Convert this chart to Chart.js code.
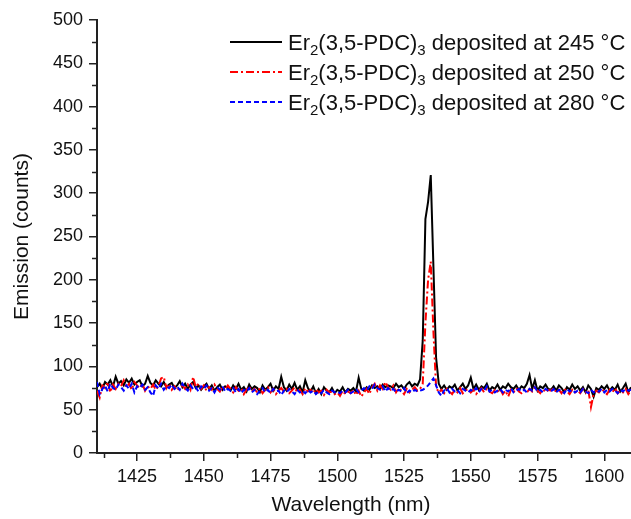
<!DOCTYPE html>
<html>
<head>
<meta charset="utf-8">
<script src="https://cdn.jsdelivr.net/npm/chart.js@4/dist/chart.umd.min.js"></script>
<style>
  html, body { margin:0; padding:0; background:#fff; overflow:hidden; }
  #wrap { position:relative; width:631px; height:519px; }
</style>
</head>
<body>
<div id="wrap"><canvas id="c" width="631" height="519"></canvas></div>
<script>
// wavelength grid, 1 nm steps
const wlStart = 1410
const wlEnd = 1610

// emission, 245 °C deposit
const em245 = [
  76, 80, 74, 82, 79, 84, 77, 88, 80, 83,
  78, 85, 81, 86, 79, 82, 84, 77, 80, 89,
  81, 78, 84, 80, 77, 82, 76, 79, 81, 75,
  78, 83, 76, 80, 74, 79, 82, 75, 78, 73,
  77, 80, 74, 78, 72, 76, 79, 73, 77, 75,
  72, 78, 74, 80, 73, 76, 71, 79, 74, 77,
  75, 70, 78, 73, 76, 80, 72, 77, 74, 88,
  76, 72, 79, 74, 81, 73, 77, 70, 84, 75,
  71, 77, 69, 74, 68, 76, 72, 70, 75, 69,
  73, 71, 76, 70, 74, 72, 75, 71, 87, 74,
  72, 76, 73, 78, 75, 77, 74, 79, 76, 78,
  77, 75, 80, 76, 78, 74, 79, 82, 77, 80,
  78, 85, 130, 270, 290, 321, 215, 110, 80, 74,
  78, 73, 77, 75, 79, 72, 76, 80, 74, 78,
  87, 74, 79, 73, 77, 75, 80, 72, 76, 74,
  79, 73, 77, 75, 80, 76, 74, 78, 73, 77,
  75, 80, 90, 74, 84, 72, 77, 75, 79, 74,
  73, 77, 72, 78, 75, 70, 76, 73, 79, 74,
  77, 72, 76, 70, 78, 74, 65, 75, 73, 77,
  74, 78, 72, 76, 73, 79, 71, 75, 80, 70,
  76
]

// emission, 250 °C deposit
const em250 = [
  72, 64, 78, 75, 82, 70, 79, 74, 80, 77,
  84, 76, 80, 73, 82, 78, 75, 80, 72, 77,
  74, 79, 73, 77, 86, 88, 75, 80, 73, 77,
  72, 76, 78, 74, 79, 73, 88, 76, 80, 74,
  78, 72, 76, 73, 79, 74, 71, 77, 73, 78,
  74, 70, 76, 72, 75, 68, 73, 77, 71, 74,
  70, 75, 69, 73, 76, 70, 74, 68, 72, 75,
  71, 74, 69, 72, 76, 70, 73, 68, 75, 71,
  73, 69, 74, 70, 72, 67, 73, 70, 71, 68,
  70, 66, 72, 68, 71, 69, 73, 67, 72, 65,
  70, 74, 68, 76, 80, 72, 78, 74, 82, 76,
  73, 78, 70, 75, 72, 68, 74, 70, 73, 76,
  72, 74, 80, 150, 200, 221, 140, 76, 70, 73,
  69, 74, 71, 68, 73, 70, 75, 69, 72, 74,
  70, 73, 68, 72, 75, 70, 74, 71, 69, 73,
  71, 74, 68, 72, 65, 73, 70, 75, 71, 69,
  73, 70, 74, 71, 76, 72, 69, 74, 70, 73,
  72, 75, 70, 73, 69, 74, 71, 68, 73, 70,
  72, 69, 74, 70, 73, 53, 68, 72, 70, 74,
  71, 68, 73, 70, 75, 69, 72, 70, 74, 68,
  72
]

// emission, 280 °C deposit
const em280 = [
  82, 68, 74, 78, 71, 80, 75, 73, 79, 76,
  72, 78, 74, 80, 70, 77, 75, 79, 73, 76,
  70, 66, 78, 74, 80, 73, 77, 75, 79, 74,
  77, 73, 80, 75, 72, 78, 74, 76, 71, 77,
  74, 78, 72, 75, 70, 76, 73, 77, 71, 74,
  72, 75, 70, 74, 69, 73, 71, 75, 70, 73,
  68, 72, 75, 70, 73, 69, 74, 71, 72, 67,
  72, 70, 74, 71, 68, 73, 70, 72, 69, 73,
  70, 72, 68, 71, 69, 73, 70, 68, 72, 70,
  71, 69, 72, 70, 73, 69, 71, 74, 70, 72,
  75, 72, 77, 74, 79, 75, 73, 77, 71, 75,
  72, 74, 70, 73, 71, 75, 69, 72, 70, 73,
  71, 72, 73, 75, 78, 82, 86, 78, 70, 66,
  72, 75, 70, 74, 71, 73, 69, 74, 72, 70,
  73, 71, 75, 70, 74, 72, 77, 71, 73, 70,
  72, 74, 70, 73, 71, 75, 70, 72, 74, 71,
  73, 70, 74, 72, 76, 71, 73, 70, 74, 72,
  71, 74, 70, 73, 72, 69, 74, 71, 73, 70,
  72, 70, 74, 71, 69, 73, 70, 72, 71, 74,
  70, 73, 71, 74, 72, 69, 73, 71, 74, 72,
  73
]

// legend names, "_x" = subscript
const seriesNames = [
  'Er_2(3,5-PDC)_3 deposited at 245 °C',
  'Er_2(3,5-PDC)_3 deposited at 250 °C',
  'Er_2(3,5-PDC)_3 deposited at 280 °C'
]

const xTicks = [1425, 1450, 1475, 1500, 1525, 1550, 1575, 1600]
const xMinor = [1412.5, 1437.5, 1462.5, 1487.5, 1512.5, 1537.5, 1562.5, 1587.5]
const yTicks = [0, 50, 100, 150, 200, 250, 300, 350, 400, 450, 500]
const yMinor = [25, 75, 125, 175, 225, 275, 325, 375, 425, 475]

const FONT = '"Liberation Sans", Arial, sans-serif'
const AXIS = '#222'

const pts = arr => arr.map((v, i) => ({ x: wlStart + i, y: v }))

const minorTicks = {
  id: 'minorTicks',
  afterDraw(chart) {
    const c = chart.ctx, x = chart.scales.x, y = chart.scales.y, a = chart.chartArea
    c.save()
    c.strokeStyle = AXIS
    c.lineWidth = 1.5
    c.beginPath()
    xMinor.forEach(v => {
      const p = Math.round(x.getPixelForValue(v)) + 0.5
      c.moveTo(p, a.bottom); c.lineTo(p, a.bottom + 5)
    })
    yMinor.forEach(v => {
      const p = Math.round(y.getPixelForValue(v)) + 0.5
      c.moveTo(a.left, p); c.lineTo(a.left - 5, p)
    })
    c.stroke()

    // axis titles
    c.fillStyle = '#111'
    c.font = '21px ' + FONT
    c.textAlign = 'center'
    c.textBaseline = 'middle'
    c.fillText('Wavelength (nm)', 351, 505)
    c.translate(22, (a.top + a.bottom) / 2)
    c.rotate(-Math.PI / 2)
    c.fillText('Emission (counts)', 0, 0)
    c.restore()
  }
}

// legend with real subscripts
const subLegend = {
  id: 'subLegend',
  afterDraw(chart) {
    const c = chart.ctx
    c.save()
    chart.data.datasets.forEach((ds, i) => {
      const yy = 42 + i * 30
      c.strokeStyle = ds.borderColor
      c.lineWidth = 2
      c.setLineDash(ds.borderDash || [])
      c.beginPath(); c.moveTo(230, yy); c.lineTo(282, yy); c.stroke()
      c.setLineDash([])
      let xx = 288
      c.fillStyle = '#111'
      c.textBaseline = 'alphabetic'
      seriesNames[i].split(/(_\d)/).forEach(part => {
        if (!part) return
        if (part[0] === '_') {
          c.font = '15px ' + FONT
          c.fillText(part.slice(1), xx, yy + 13)
          xx += c.measureText(part.slice(1)).width
        } else {
          c.font = '22px ' + FONT
          c.fillText(part, xx, yy + 8)
          xx += c.measureText(part).width
        }
      })
    })
    c.restore()
  }
}

new Chart(document.getElementById('c'), {
  type: 'line',
  data: {
    datasets: [
      { data: pts(em245), borderColor: '#000000', borderWidth: 2, order: 2 },
      { data: pts(em250), borderColor: '#ff0000', borderWidth: 2, borderDash: [8, 3, 2, 3], order: 1 },
      { data: pts(em280), borderColor: '#0000ff', borderWidth: 2, borderDash: [5, 3], order: 0 }
    ]
  },
  options: {
    responsive: false,
    animation: false,
    layout: { padding: { top: 20, right: 0, left: 0, bottom: 0 } },
    elements: { point: { radius: 0 }, line: { tension: 0 } },
    plugins: { legend: { display: false }, tooltip: { enabled: false } },
    scales: {
      x: {
        type: 'linear', min: wlStart, max: wlEnd,
        afterBuildTicks: s => { s.ticks = xTicks.map(v => ({ value: v })) },
        afterFit: s => { s.height = 66 },
        grid: { drawOnChartArea: false, drawTicks: true, tickLength: 8, color: AXIS, lineWidth: 1.5 },
        border: { color: AXIS, width: 2 },
        ticks: { padding: 5, color: '#111', font: { size: 18, family: FONT }, maxRotation: 0, autoSkip: false,
                 callback: v => String(v) }
      },
      y: {
        min: 0, max: 500,
        afterBuildTicks: s => { s.ticks = yTicks.map(v => ({ value: v })) },
        afterFit: s => { s.width = 97 },
        grid: { drawOnChartArea: false, drawTicks: true, tickLength: 8, color: AXIS, lineWidth: 1.5 },
        border: { color: AXIS, width: 2 },
        ticks: { padding: 6, color: '#111', font: { size: 18, family: FONT }, callback: v => String(v) }
      }
    }
  },
  plugins: [minorTicks, subLegend]
})
</script>
</body>
</html>
